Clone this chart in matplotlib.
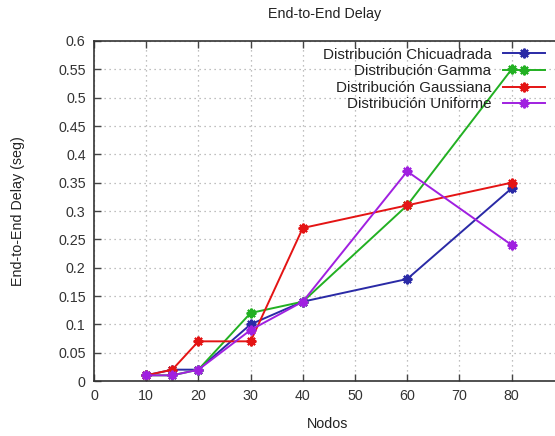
import matplotlib
matplotlib.use("Agg")
import matplotlib.pyplot as plt

plt.rcParams['font.family'] = ['Liberation Sans', 'DejaVu Sans']

nodos = [10, 15, 20, 30, 40, 60, 80]
chicuadrada = [0.01, 0.02, 0.02, 0.10, 0.14, 0.18, 0.34]
gamma = [0.01, 0.01, 0.02, 0.12, 0.14, 0.31, 0.55]
gaussiana = [0.01, 0.02, 0.07, 0.07, 0.27, 0.31, 0.35]
uniforme = [0.01, 0.01, 0.02, 0.09, 0.14, 0.37, 0.24]

series = [
    ("Distribución Chicuadrada", chicuadrada, "#2a2aa6"),
    ("Distribución Gamma", gamma, "#22b022"),
    ("Distribución Gaussiana", gaussiana, "#e41414"),
    ("Distribución Uniforme", uniforme, "#a020e0"),
]

xticks = [0, 10, 20, 30, 40, 50, 60, 70, 80]
yticks = [0, 0.05, 0.1, 0.15, 0.2, 0.25, 0.3, 0.35, 0.4, 0.45, 0.5, 0.55, 0.6]

W, H = 555, 436
fig = plt.figure(figsize=(W / 100, H / 100), dpi=100)
ax = fig.add_axes([94 / W, 1 - 381 / H, 1 - 94 / W, (381 - 41) / H])

star = (8, 2, 0)
for label, vals, col in series:
    ax.plot(nodos, vals, color=col, lw=1.4, marker=star, markersize=7,
            markeredgewidth=1.5, label=label)

ax.set_xlim(0, (555 - 94) / 5.22)
ax.set_ylim(0, 0.6)
ax.set_xticks(xticks)
ax.set_xticklabels([str(t) for t in xticks])
ax.set_yticks(yticks)
ax.set_yticklabels([f"{t:g}" for t in yticks])
ax.tick_params(direction='in', length=5, width=1, colors='#444444',
               labelcolor='#333333', labelsize=10.3, top=True, right=False, pad=6)
ax.grid(True, color='#aaaaaa', linestyle=(0, (1, 3)), linewidth=0.9)
for s in ['left', 'bottom', 'top']:
    ax.spines[s].set_color('#333333')
    ax.spines[s].set_linewidth(1.2)
ax.spines['right'].set_visible(False)

leg = ax.legend(loc='upper right', bbox_to_anchor=(0.9985, 1.007), markerfirst=False,
                frameon=False, fontsize=10.9, handlelength=2.77, handletextpad=0.79,
                labelspacing=0.17, borderaxespad=0.2)
for t in leg.get_texts():
    t.set_color('#222222')

fig.text(325 / W, 1 - 14 / H, "End-to-End Delay", ha='center', va='center',
         fontsize=10.3, color='#222222')
fig.text(328 / W, 1 - 424 / H, "Nodos", ha='center', va='center',
         fontsize=10.3, color='#222222')
fig.text(18 / W, 1 - 211 / H, "End-to-End Delay (seg)", ha='center', va='center',
         rotation=90, fontsize=10.3, color='#222222')

fig.savefig("out.png", dpi=100)
